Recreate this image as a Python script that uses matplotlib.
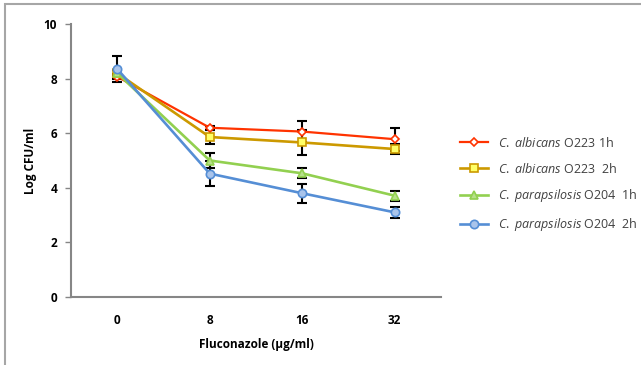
import matplotlib
matplotlib.use("Agg")
import matplotlib.pyplot as plt
from matplotlib.patches import Rectangle

plt.rcParams['font.family'] = ['Open Sans', 'DejaVu Sans']
plt.rcParams['mathtext.fontset'] = 'custom'
plt.rcParams['mathtext.rm'] = 'Open Sans'
plt.rcParams['mathtext.it'] = 'Open Sans:italic'

# fluconazole concentrations (category axis)
conc = ['0', '8', '16', '32']

alb_1h = [8.07, 6.2, 6.06, 5.78]
alb_1h_err = [0.1, 0.08, 0.4, 0.42]
alb_2h = [8.2, 5.86, 5.66, 5.42]
alb_2h_err = [0.1, 0.24, 0.45, 0.2]
par_1h = [8.2, 5.0, 4.53, 3.71]
par_1h_err = [0.1, 0.27, 0.18, 0.18]
par_2h = [8.35, 4.52, 3.8, 3.1]
par_2h_err = [0.47, 0.45, 0.35, 0.2]

labels = [r'$\it{C.\ albicans}$ O223 1h',
          r'$\it{C.\ albicans}$ O223  2h',
          r'$\it{C.\ parapsilosis}$ O204  1h',
          r'$\it{C.\ parapsilosis}$ O204  2h']

series = [
    (alb_1h, alb_1h_err, '#FF3300', 'D', 'white', 4.5, 1.6),
    (alb_2h, alb_2h_err, '#CC9900', 's', '#FFFF66', 5.5, 1.9),
    (par_1h, par_1h_err, '#92D050', '^', '#B7E08A', 6.0, 1.9),
    (par_2h, par_2h_err, '#558ED5', 'o', '#A9C4EB', 6.0, 1.9),
]

fig = plt.figure(figsize=(6.41, 3.65), dpi=100)
# light grey chart-area frame
fig.patches.append(Rectangle((5 / 641, -0.05), 1.1, 1 - 4 / 365 + 0.05,
                             transform=fig.transFigure, fill=False,
                             edgecolor='#A6A6A6', linewidth=1.5))

ax = fig.add_axes([71 / 641, 1 - 297 / 365, 370 / 641, 273 / 365])
x = list(range(len(conc)))

for vals, err, col, mk, fc, ms, lw in series:
    ax.errorbar(x, vals, yerr=err, fmt='none', ecolor='black',
                elinewidth=1.5, capsize=3.5, capthick=1.5, zorder=2)

handles = []
for (vals, err, col, mk, fc, ms, lw), lab in zip(series, labels):
    h, = ax.plot(x, vals, color=col, linewidth=lw, marker=mk, markersize=ms,
                 markerfacecolor=fc, markeredgecolor=col, markeredgewidth=1.2,
                 label=lab, zorder=3)
    handles.append(h)

ax.set_xlim(-0.5, len(conc) - 0.5)
ax.set_ylim(0, 10)
ax.set_yticks([0, 2, 4, 6, 8, 10])
ax.set_xticks(x)
ax.set_xticklabels(conc)

for s in ['top', 'right']:
    ax.spines[s].set_visible(False)
for s in ['left', 'bottom']:
    ax.spines[s].set_color('#868686')
    ax.spines[s].set_linewidth(1.5)

ax.tick_params(axis='y', length=4, width=1, color='#868686', pad=6,
               labelsize=8.5, labelcolor='black')
ax.tick_params(axis='x', length=0, pad=12, labelsize=8.5, labelcolor='black')
for t in ax.get_xticklabels() + ax.get_yticklabels():
    t.set_fontweight('bold')

ax.set_xlabel('Fluconazole (µg/ml)', fontsize=8.5, fontweight='bold', labelpad=8)
ax.set_ylabel('Log CFU/ml', fontsize=8.5, fontweight='bold', labelpad=5)

fig.legend(handles=handles, loc='center left',
           bbox_to_anchor=(460 / 641, 1 - 184.5 / 365),
           bbox_transform=fig.transFigure, frameon=False, fontsize=9,
           handlelength=2.2, handletextpad=0.85, labelspacing=0.95,
           borderpad=0, borderaxespad=0, labelcolor='#404040')

fig.savefig('out.png', dpi=100)
